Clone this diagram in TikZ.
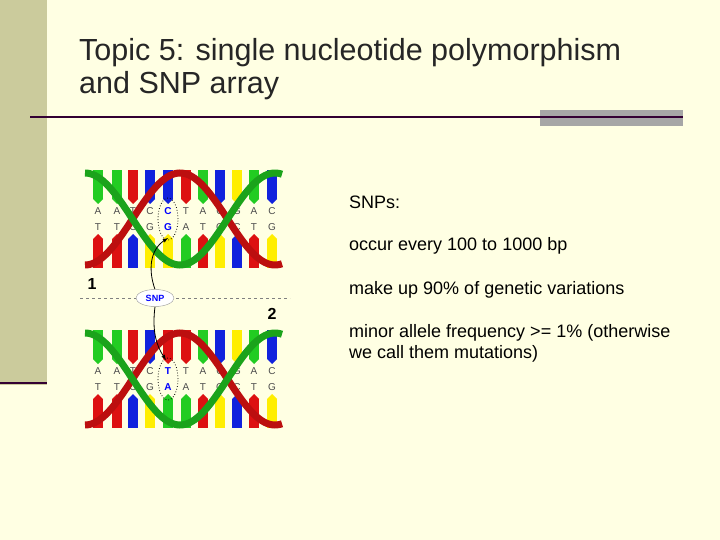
\documentclass[tikz,border=0pt]{standalone}
\usepackage{fontspec}
\setmainfont{Liberation Sans}
\usetikzlibrary{shapes.geometric}
\definecolor{bg}{HTML}{FFFFE3}
\definecolor{strip}{HTML}{CBCB9C}
\definecolor{dark}{HTML}{330033}
\definecolor{gA}{HTML}{22CC22}
\definecolor{rT}{HTML}{DD1111}
\definecolor{bC}{HTML}{1122DD}
\definecolor{yG}{HTML}{FFEE00}
\tikzset{
  body/.style={font=\fontsize{18}{20}\selectfont, anchor=base west, inner sep=0},
  base/.style={font=\fontsize{10}{11}\selectfont, inner sep=0, text=black!70},
  snpbase/.style={font=\bfseries\fontsize{10}{11}\selectfont, inner sep=0, text=blue},
  strandR/.style={line width=7pt, rT!85!black},
  strandG/.style={line width=7pt, gA!80!black},
}
\begin{document}
\begin{tikzpicture}[x=1pt,y=-1pt]
\useasboundingbox (0,0) rectangle (720,540);
\fill[bg] (0,0) rectangle (720,540);
\fill[strip] (0,0) rectangle (47,385);
\draw[dark, line width=2.5pt] (0,383) -- (47,383);
\fill[black!35] (540,110) rectangle (683,126);
\draw[dark, line width=2pt] (30,117) -- (683,117);
\node[anchor=base west, inner sep=0, font=\fontsize{30.5}{34}\selectfont, text=black!85] (t1) at (79,61) {Topic 5: single nucleotide polymorphism};
\node[anchor=base west, inner sep=0, font=\fontsize{30.5}{34}\selectfont, text=black!85] (t2) at (79,94) {and SNP array};
\node[body] (s1) at (349,208) {SNPs:};
\node[body] (s2) at (349,250) {occur every 100 to 1000 bp};
\node[body] (s3) at (349,294) {make up 90\% of genetic variations};
\node[body] (s4) at (349,337) {minor allele frequency >= 1\% (otherwise};
\node[body] (s5) at (349,358) {we call them mutations)};
% helices
\foreach \dy/\sl/\sc/\sb/\sbc in {0/C/bC/G/yG, 160/T/rT/A/gA}{
\begin{scope}[yshift=-\dy]
\foreach \x/\tl/\tc/\bl/\bc [count=\i] in {98/A/gA/T/rT,117/A/gA/T/rT,133/T/rT/C/bC,150/C/bC/G/yG,168/\sl/\sc/\sb/\sbc,186/T/rT/A/gA,203/A/gA/T/rT,220/C/bC/G/yG,237/G/yG/C/bC,254/A/gA/T/rT,272/C/bC/G/yG}{
  \fill[\tc] (\x-5,170) rectangle (\x+5,199);
  \fill[\tc] (\x-5,199) -- (\x+5,199) -- (\x,204) -- cycle;
  \fill[\bc] (\x-5,239) rectangle (\x+5,268);
  \fill[\bc] (\x-5,239) -- (\x+5,239) -- (\x,234) -- cycle;
  \ifnum\i=5
  \node[snpbase] (tl\i) at (\x,211) {\tl};
  \node[snpbase] (bl\i) at (\x,227) {\bl};
  \else
  \node[base] (tl\i) at (\x,211) {\tl};
  \node[base] (bl\i) at (\x,227) {\bl};
  \fi
}
\draw[strandR] plot[domain=85:282,samples=80,smooth] (\x,{219+46*cos(1.8947*(\x-85))});
\draw[strandG] plot[domain=85:282,samples=80,smooth] (\x,{219-46*cos(1.8947*(\x-85))});
\draw[black, dotted, thick] (168,219) ellipse (10pt and 21pt);
\end{scope}}
\coordinate (c1) at (168,238);
\coordinate (c2) at (166,360);
\node[font=\bfseries\fontsize{16}{18}\selectfont] (n1) at (92,284) {1};
\node[font=\bfseries\fontsize{16}{18}\selectfont] (n2) at (272,314) {2};
\draw[black!50, dashed, thick] (80,298) -- (290,298);
\node[ellipse, draw=black!40, fill=white, inner sep=1pt, minimum width=38pt, minimum height=17pt, font=\bfseries\fontsize{9}{10}\selectfont, text=blue] (snp) at (155,298) {SNP};
\draw[-latex, thick] (snp.north) .. controls (148,270) and (150,250) .. (c1);
\draw[-latex, thick] (snp.south) .. controls (152,330) and (156,345) .. (c2);
\end{tikzpicture}
\end{document}
